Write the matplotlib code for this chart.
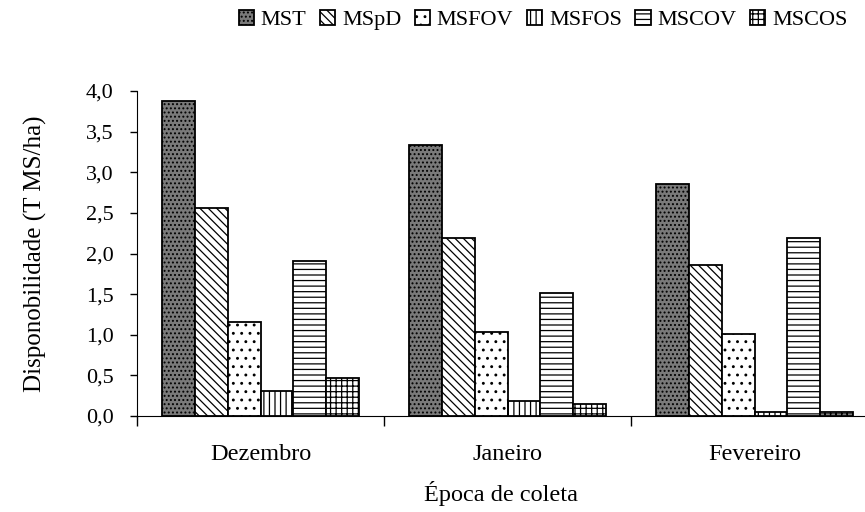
import matplotlib.pyplot as plt
import numpy as np

plt.rcParams['font.family'] = ['Liberation Serif', 'DejaVu Serif']
plt.rcParams['hatch.linewidth'] = 0.9

# Dados
meses = ["Dezembro", "Janeiro", "Fevereiro"]
series = ["MST", "MSpD", "MSFOV", "MSFOS", "MSCOV", "MSCOS"]
mst = [3.88, 3.34, 2.85]
mspd = [2.56, 2.19, 1.86]
msfov = [1.16, 1.03, 1.01]
msfos = [0.31, 0.18, 0.05]
mscov = [1.91, 1.52, 2.19]
mscos = [0.47, 0.15, 0.05]
valores = [mst, mspd, msfov, msfos, mscov, mscos]

# Estilo (preto e branco com hachuras)
cores = ["#7a7a7a", "white", "white", "white", "white", "white"]
hachuras = ["....", "\\\\\\\\", "..", "|||", "---", "+++"]

fig = plt.figure(figsize=(8.65, 5.12), dpi=100)
ax = fig.add_axes([137 / 865, 96 / 512, (865 - 137) / 865, (416 - 91) / 512])

largura = 0.133
x = np.arange(len(meses))
barras = []
for i, (nome, vals) in enumerate(zip(series, valores)):
    b = ax.bar(x + (i - 2.5) * largura, vals, width=largura, color=cores[i],
               hatch=hachuras[i], edgecolor="black", linewidth=1.3, label=nome)
    barras.append(b)

ax.set_ylim(0, 4)
ax.set_xlim(-0.5, 2.447)
yt = np.arange(0, 4.01, 0.5)
ax.set_yticks(yt)
ax.set_yticklabels([f"{v:.1f}".replace(".", ",") for v in yt], fontsize=16)

# ticks nas divisões entre meses, rótulos no centro
ax.set_xticks([-0.5, 0.5, 1.5])
ax.set_xticklabels([])
ax.set_xticks(x, minor=True)
ax.set_xticklabels(meses, minor=True, fontsize=17.5)
ax.tick_params(axis="x", which="major", direction="out", length=7, width=1)
ax.tick_params(axis="x", which="minor", length=0, pad=20)
ax.tick_params(axis="y", direction="out", length=5, width=1, pad=12)

ax.spines["top"].set_visible(False)
ax.spines["right"].set_visible(False)

ax.set_ylabel("Disponobilidade (T MS/ha)", fontsize=18, labelpad=28)
ax.set_xlabel("Época de coleta", fontsize=17.5, labelpad=12)

fig.legend(handles=barras, loc="center", bbox_to_anchor=(543 / 865, 1 - 20 / 512),
           ncol=6, frameon=False, fontsize=16, handlelength=0.7, handleheight=0.7,
           handletextpad=0.3, columnspacing=0.6)

plt.savefig("out.png", dpi=100)
plt.close()
